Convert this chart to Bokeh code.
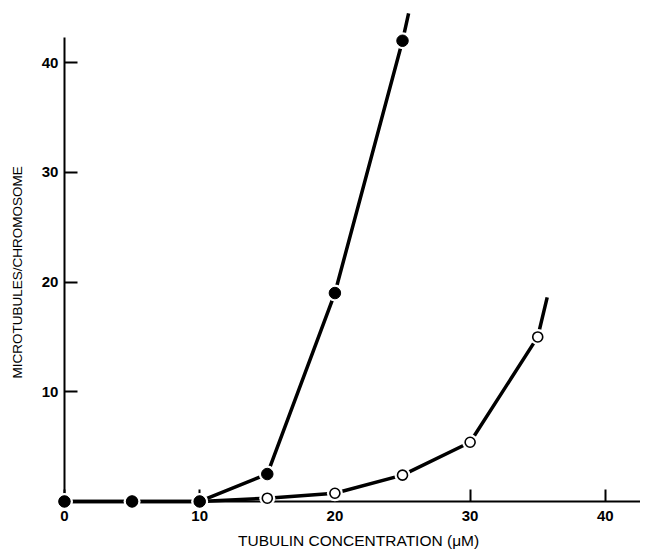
import math
from bokeh.plotting import figure
from bokeh.models import Range1d, FixedTicker, Label
from bokeh.embed import file_html
from bokeh.resources import INLINE

# ---- data ----
filled_x = [0, 5, 10, 15, 20, 25]
filled_y = [0, 0, 0, 2.5, 19.0, 42.0]
filled_tail_x = [25.45]          # line continues past last point
filled_tail_y = [44.5]

open_x = [0, 5, 10, 15, 20, 25, 30, 35]
open_y = [0, 0, 0, 0.3, 0.75, 2.4, 5.4, 15.0]
open_tail_x = [35.7]
open_tail_y = [18.6]

x_ticks = [0, 10, 20, 30, 40]
y_ticks = [10, 20, 30, 40]
x_label = "TUBULIN CONCENTRATION (\u03bcM)"
y_label = "MICROTUBULES/CHROMOSOME"

FONT = "Liberation Sans"

p = figure(width=640, height=550,
           x_range=Range1d(-4.73, 42.6), y_range=Range1d(-4.47, 45.67),
           output_backend="svg", toolbar_location=None,
           min_border_left=0, min_border_right=0,
           min_border_top=0, min_border_bottom=0)
p.outline_line_color = None
p.grid.visible = False
p.background_fill_color = "white"
p.border_fill_color = "white"

# lines
p.line(filled_x + filled_tail_x, filled_y + filled_tail_y,
       line_color="black", line_width=3.5)
p.line(open_x + open_tail_x, open_y + open_tail_y,
       line_color="black", line_width=3.5)

# white halos around markers (gaps in the lines)
p.scatter(open_x, open_y, size=16, fill_color="white", line_color=None, level="overlay")
p.scatter(filled_x, filled_y, size=17, fill_color="white", line_color=None, level="overlay")
# markers
p.scatter(open_x, open_y, size=10, fill_color="white", line_color="black",
          line_width=1.6, level="overlay")
p.scatter(filled_x, filled_y, size=11.5, fill_color="black", line_color="black",
          line_width=1, level="overlay")

# axes crossing at zero
for ax in (p.xaxis[0], p.yaxis[0]):
    ax.fixed_location = 0
    ax.axis_line_width = 2
    ax.axis_line_color = "black"
    ax.major_tick_line_width = 2
    ax.major_tick_line_color = "black"
    ax.minor_tick_line_color = None
    ax.major_tick_out = 0
    ax.major_label_text_font = FONT
    ax.major_label_text_font_size = "15px"
    ax.major_label_text_font_style = "bold"
    ax.major_label_text_color = "black"
    ax.axis_label = None

p.xaxis.bounds = (0, 43)
p.yaxis.bounds = (0, 42.3)
p.xaxis.ticker = FixedTicker(ticks=x_ticks)
p.yaxis.ticker = FixedTicker(ticks=y_ticks)
p.xaxis.major_tick_in = 12
p.yaxis.major_tick_in = 13
p.xaxis.major_label_standoff = 10
p.yaxis.major_label_standoff = 6

p.add_layout(Label(x=21.75, y=-3.56, text=x_label, text_align="center",
                   text_baseline="middle", text_font=FONT,
                   text_font_size="15.5px", text_color="black"))
p.add_layout(Label(x=-3.48, y=20.88, text=y_label, text_align="center",
                   text_baseline="middle", angle=math.pi / 2,
                   text_font=FONT, text_font_size="13.5px",
                   text_color="black"))

open("out.html", "w").write(file_html(p, INLINE))
